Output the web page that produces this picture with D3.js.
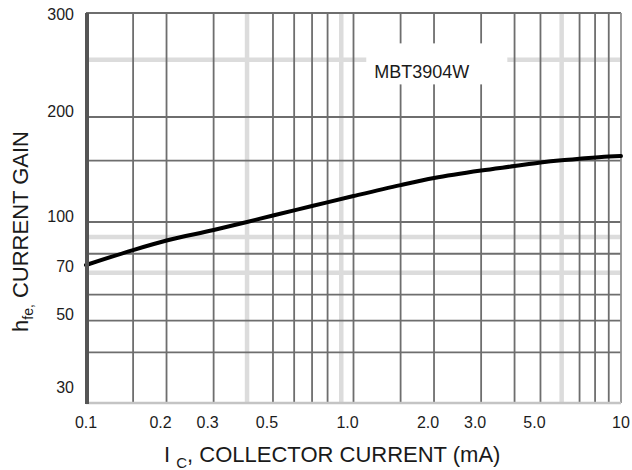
<!DOCTYPE html>
<html>
<head>
<meta charset="utf-8">
<script src="https://cdn.jsdelivr.net/npm/d3@7"></script>
<style>
  html, body { margin: 0; padding: 0; background: #fff; }
  svg { display: block; font-family: "Liberation Sans", Arial, sans-serif; }
</style>
</head>
<body>
<svg id="chart" width="632" height="470"></svg>
<script>
// Collector current (mA) and small-signal current gain h_fe
const collectorCurrent = [0.1, 0.15, 0.2, 0.3, 0.4, 0.5, 0.7, 1.0, 1.5, 2, 3, 4, 5, 6, 7, 9, 10];
const currentGain = [73.9, 82.1, 87.8, 94.5, 100, 104.4, 111.1, 118.7, 127.6, 133.7, 140.5, 144.7, 148.1, 150.3, 151.8, 154.0, 154.6];

// Tick labels
const xTickValues = [0.1, 0.2, 0.3, 0.5, 1, 2, 3, 5, 10];
const xTickLabels = ["0.1", "0.2", "0.3", "0.5", "1.0", "2.0", "3.0", "5.0", "10"];
const yTickValues = [300, 200, 100, 70, 50, 30];
const yTickLabels = ["300", "200", "100", "70", "50", "30"];

// Grid lines (heavy and faint)
const xGridDark = [0.15, 0.2, 0.3, 0.5, 0.6, 0.7, 0.8, 1, 1.5, 2, 3, 4, 5, 7, 8, 9];
const xGridLight = [0.4, 0.9, 6];
const yGridDark = [40, 50, 60, 80, 100, 150, 200];
const yGridLight = [70, 90, 250];

const deviceName = "MBT3904W";

const svg = d3.select("#chart");
const L = 86, R = 621, T = 13, B = 403;

const x = d3.scaleLog().domain([0.1, 10]).range([L, R]);
// log scale, with a taller spacing above 100
const y = d3.scaleLog().domain([28, 100, 200, 300]).range([B, 222, 117, T]);

const grid = svg.append("g");

grid.selectAll("line.xl").data(xGridLight).join("line")
  .attr("x1", d => x(d)).attr("x2", d => x(d))
  .attr("y1", T).attr("y2", B)
  .attr("stroke", "#dcdcdc").attr("stroke-width", 4.5);
grid.selectAll("line.yl").data(yGridLight).join("line")
  .attr("x1", L).attr("x2", R)
  .attr("y1", d => y(d)).attr("y2", d => y(d))
  .attr("stroke", "#dcdcdc").attr("stroke-width", 4.5);

grid.selectAll("line.xd").data(xGridDark).join("line")
  .attr("x1", d => x(d)).attr("x2", d => x(d))
  .attr("y1", T).attr("y2", B)
  .attr("stroke", "#6e6e6e").attr("stroke-width", 1.8);
grid.selectAll("line.yd").data(yGridDark).join("line")
  .attr("x1", L).attr("x2", R)
  .attr("y1", d => y(d)).attr("y2", d => y(d))
  .attr("stroke", "#6e6e6e").attr("stroke-width", 1.8);

// frame
svg.append("line").attr("x1", L).attr("x2", R).attr("y1", T).attr("y2", T)
  .attr("stroke", "#6e6e6e").attr("stroke-width", 1.8);
svg.append("line").attr("x1", R).attr("x2", R).attr("y1", T).attr("y2", B)
  .attr("stroke", "#909090").attr("stroke-width", 1.8);
svg.append("line").attr("x1", L).attr("x2", R).attr("y1", B).attr("y2", B)
  .attr("stroke", "#c4c4c4").attr("stroke-width", 2.6);

// device label on a white patch
const label = svg.append("text")
  .attr("x", x(1.8)).attr("y", y(238))
  .attr("text-anchor", "middle").attr("dominant-baseline", "central")
  .attr("font-size", 18).attr("fill", "#1a1a1a")
  .text(deviceName);
const bb = label.node().getBBox();
svg.insert("rect", "text")
  .attr("x", bb.x - 8).attr("y", bb.y - 19)
  .attr("width", bb.width + 46).attr("height", bb.height + 21)
  .attr("fill", "#fff");

// gain curve
const line = d3.line()
  .x((d, i) => x(collectorCurrent[i]))
  .y(d => y(d))
  .curve(d3.curveMonotoneX);
svg.append("path")
  .datum(currentGain)
  .attr("d", line)
  .attr("fill", "none")
  .attr("stroke", "#000")
  .attr("stroke-width", 4)
  .attr("stroke-linecap", "round");

// left axis bar
svg.append("line").attr("x1", L + 1).attr("x2", L + 1).attr("y1", T).attr("y2", B + 1)
  .attr("stroke", "#555").attr("stroke-width", 4);

// x tick labels
svg.append("g").selectAll("text").data(xTickValues).join("text")
  .attr("x", (d, i) => x(d) + (i === 0 || i === xTickValues.length - 1 ? 0 : -6))
  .attr("y", 422)
  .attr("text-anchor", "middle").attr("dominant-baseline", "central")
  .attr("font-size", 16).attr("fill", "#1c1c1c")
  .text((d, i) => xTickLabels[i]);

// y tick labels
svg.append("g").selectAll("text").data(yTickValues).join("text")
  .attr("x", 74)
  .attr("y", d => Math.max(y(d) - 6, T + 1))
  .attr("text-anchor", "end").attr("dominant-baseline", "central")
  .attr("font-size", 16).attr("fill", "#1c1c1c")
  .text((d, i) => yTickLabels[i]);

// axis titles
const xt = svg.append("text").attr("x", 164).attr("y", 462)
  .attr("font-size", 22).attr("fill", "#1a1a1a");
xt.append("tspan").text("I ");
xt.append("tspan").attr("font-size", 15).attr("dy", 6).text("C");
xt.append("tspan").attr("dy", -6).text(", COLLECTOR CURRENT (mA)");

const yt = svg.append("text")
  .attr("transform", "translate(28,332) rotate(-90)")
  .attr("font-size", 22).attr("fill", "#1a1a1a");
yt.append("tspan").text("h");
yt.append("tspan").attr("font-size", 14).attr("dy", 5).text("fe,");
yt.append("tspan").attr("dy", -5).text(" CURRENT GAIN");
</script>
</body>
</html>
